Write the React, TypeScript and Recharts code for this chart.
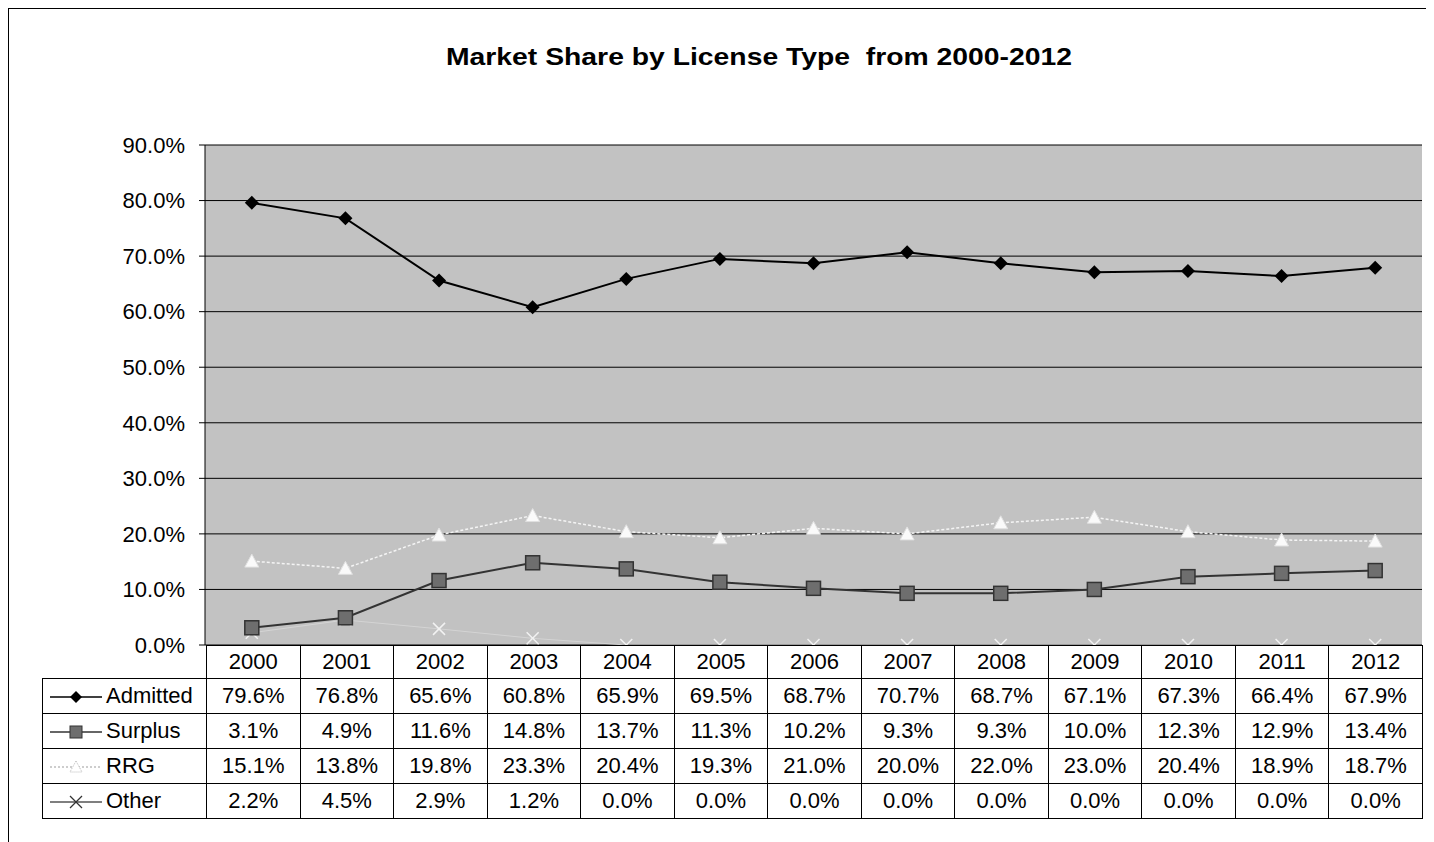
import { LineChart, Line, XAxis, YAxis, CartesianGrid } from 'recharts';

const years = ['2000', '2001', '2002', '2003', '2004', '2005', '2006', '2007', '2008', '2009', '2010', '2011', '2012'];
const admitted = [79.6, 76.8, 65.6, 60.8, 65.9, 69.5, 68.7, 70.7, 68.7, 67.1, 67.3, 66.4, 67.9];
const surplus = [3.1, 4.9, 11.6, 14.8, 13.7, 11.3, 10.2, 9.3, 9.3, 10.0, 12.3, 12.9, 13.4];
const rrg = [15.1, 13.8, 19.8, 23.3, 20.4, 19.3, 21.0, 20.0, 22.0, 23.0, 20.4, 18.9, 18.7];
const other = [2.2, 4.5, 2.9, 1.2, 0.0, 0.0, 0.0, 0.0, 0.0, 0.0, 0.0, 0.0, 0.0];
const yTicks = [0, 10, 20, 30, 40, 50, 60, 70, 80, 90];

const FONT = '"Liberation Sans", Arial, sans-serif';

const data = years.map((year, i) => ({
  year,
  admitted: admitted[i],
  surplus: surplus[i],
  rrg: rrg[i],
  other: other[i],
}));

/**
 * マーカー描画
 */
const Diamond = (p: any) => (
  <path key={`d-${p.index}`} d={`M${p.cx},${p.cy - 7}L${p.cx + 7},${p.cy}L${p.cx},${p.cy + 7}L${p.cx - 7},${p.cy}Z`} fill="#000" />
);
const Square = (p: any) => (
  <rect key={`s-${p.index}`} x={p.cx - 7} y={p.cy - 7} width={14} height={14} fill="#6e6e6e" stroke="#333" strokeWidth={1.5} />
);
const Triangle = (p: any) => (
  <path key={`t-${p.index}`} d={`M${p.cx},${p.cy - 7}L${p.cx + 7},${p.cy + 6}L${p.cx - 7},${p.cy + 6}Z`} fill="#fafafa" stroke="#e0e0e0" />
);
const Cross = (p: any) => (
  <g key={`x-${p.index}`} stroke="#f2f2f2" strokeWidth={1.5}>
    <line x1={p.cx - 6} y1={p.cy - 6} x2={p.cx + 6} y2={p.cy + 6} />
    <line x1={p.cx - 6} y1={p.cy + 6} x2={p.cx + 6} y2={p.cy - 6} />
  </g>
);

const series = [
  { key: 'admitted', name: 'Admitted', values: admitted, stroke: '#000', dash: undefined, marker: 'diamond' },
  { key: 'surplus', name: 'Surplus', values: surplus, stroke: '#333', dash: undefined, marker: 'square' },
  { key: 'rrg', name: 'RRG', values: rrg, stroke: '#bdbdbd', dash: '2 2', marker: 'triangle' },
  { key: 'other', name: 'Other', values: other, stroke: '#555', dash: undefined, marker: 'cross' },
];

function LegendIcon({ marker, stroke, dash }: { marker: string; stroke: string; dash?: string }) {
  const cx = 28;
  const cy = 9;
  return (
    <svg width={56} height={18} style={{ verticalAlign: 'middle', marginLeft: 5, marginRight: 2 }}>
      <line x1={2} y1={cy} x2={54} y2={cy} stroke={stroke} strokeWidth={1.5} strokeDasharray={dash} />
      {marker === 'diamond' && <path d={`M${cx},${cy - 6}L${cx + 6},${cy}L${cx},${cy + 6}L${cx - 6},${cy}Z`} fill="#000" />}
      {marker === 'square' && <rect x={cx - 6} y={cy - 6} width={12} height={12} fill="#6e6e6e" stroke="#333" />}
      {marker === 'triangle' && <path d={`M${cx},${cy - 6}L${cx + 6},${cy + 5}L${cx - 6},${cy + 5}Z`} fill="#fff" stroke="#bbb" strokeDasharray="1 1" />}
      {marker === 'cross' && (
        <g stroke="#333" strokeWidth={1.2}>
          <line x1={cx - 6} y1={cy - 6} x2={cx + 6} y2={cy + 6} />
          <line x1={cx - 6} y1={cy + 6} x2={cx + 6} y2={cy - 6} />
        </g>
      )}
    </svg>
  );
}

export default function App() {
  const cell: React.CSSProperties = {
    border: '1px solid #000',
    textAlign: 'center',
    padding: 0,
    background: '#fff',
  };

  return (
    <div
      style={{
        position: 'relative',
        width: 1426,
        height: 834,
        borderTop: '1px solid #000',
        borderLeft: '1px solid #000',
        fontFamily: FONT,
        background: '#fff',
      }}
    >
      <div
        style={{
          position: 'absolute',
          top: 34,
          left: 0,
          width: 1500,
          textAlign: 'center',
          fontSize: 24,
          fontWeight: 'bold',
          whiteSpace: 'pre',
          transform: 'scaleX(1.18)',
          transformOrigin: '750px 0',
        }}
      >
        {'Market Share by License Type  from 2000-2012'}
      </div>

      <div style={{ position: 'absolute', top: 0, left: 0 }}>
        <LineChart width={1426} height={834} data={data} margin={{ top: 136, right: 13, bottom: 198, left: 0 }}>
          <CartesianGrid vertical={false} stroke="#000" fill="#c2c2c2" fillOpacity={1} />
          <XAxis dataKey="year" scale="band" tick={false} tickLine={false} axisLine={{ stroke: '#000' }} height={0} />
          <YAxis
            domain={[0, 90]}
            ticks={yTicks}
            width={196}
            tickFormatter={(v) => `${Number(v).toFixed(1)}%`}
            tick={{ fill: '#000', fontSize: 22, fontFamily: FONT }}
            tickSize={6}
            tickMargin={14}
            tickLine={{ stroke: '#000' }}
            axisLine={{ stroke: '#000' }}
            interval={0}
          />
          <YAxis yAxisId="r" orientation="right" width={0} tick={false} tickLine={false} axisLine={{ stroke: '#000' }} />
          <Line dataKey="other" stroke="#d4d4d4" strokeWidth={1} dot={Cross} isAnimationActive={false} />
          <Line dataKey="rrg" stroke="#f4f4f4" strokeWidth={1.5} strokeDasharray="3 2" dot={Triangle} isAnimationActive={false} />
          <Line dataKey="surplus" stroke="#333" strokeWidth={2} dot={Square} isAnimationActive={false} />
          <Line dataKey="admitted" stroke="#000" strokeWidth={2} dot={Diamond} isAnimationActive={false} />
        </LineChart>
      </div>

      <table
        style={{
          position: 'absolute',
          top: 636,
          left: 33,
          width: 1381,
          borderCollapse: 'collapse',
          tableLayout: 'fixed',
          fontSize: 22,
          fontFamily: FONT,
        }}
      >
        <colgroup>
          <col style={{ width: 164 }} />
          {years.map((y) => (
            <col key={y} />
          ))}
        </colgroup>
        <tbody>
          <tr style={{ height: 33 }}>
            <td style={{ padding: 0, border: 'none', borderRight: '1px solid #000' }} />
            {years.map((y) => (
              <td key={y} style={cell}>
                {y}
              </td>
            ))}
          </tr>
          {series.map((s) => (
            <tr key={s.key} style={{ height: 35 }}>
              <td style={{ ...cell, textAlign: 'left', whiteSpace: 'nowrap' }}>
                <LegendIcon marker={s.marker} stroke={s.stroke} dash={s.dash} />
                <span style={{ verticalAlign: 'middle' }}>{s.name}</span>
              </td>
              {s.values.map((v, i) => (
                <td key={i} style={cell}>
                  {v.toFixed(1)}%
                </td>
              ))}
            </tr>
          ))}
        </tbody>
      </table>
    </div>
  );
}
